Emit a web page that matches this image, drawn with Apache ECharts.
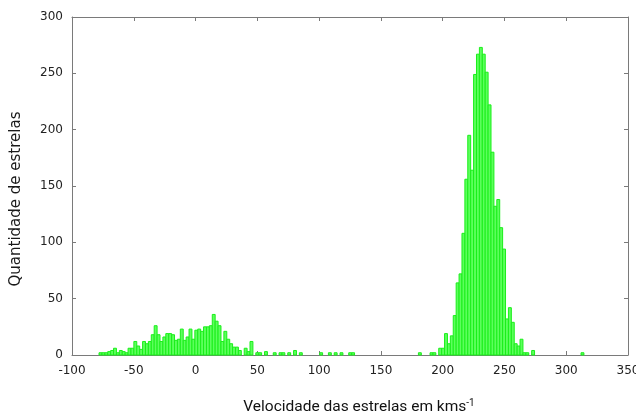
<!DOCTYPE html>
<html><head><meta charset="utf-8">
<script src="https://cdn.jsdelivr.net/npm/echarts@6/dist/echarts.min.js"></script>
<style>html,body{margin:0;padding:0;background:#fff}#c{width:636px;height:412px}</style>
</head><body><div id="c"></div>
<script>
// Histogram bins (km/s): first bin centre and bin width
const binStart = -76.95;
const binWidth = 2.35;
// Star counts per bin, consecutive from binStart
const counts = [
  2,2,2,3,4,6,2,4,3,2,
  6,6,12,8,5,12,10,12,18,26,
  18,12,16,19,19,18,13,14,23,13,
  16,23,14,22,23,21,25,25,26,36,
  30,26,12,21,14,10,7,7,4,0,
  6,3,12,0,2,2,0,3,0,0,
  2,0,2,2,0,2,0,4,0,2,
  0,0,0,0,0,0,2,0,0,2,
  0,2,0,2,0,0,2,2,0,0,
  0,0,0,0,0,0,0,0,0,0,
  0,0,0,0,0,0,0,0,0,0,
  2,0,0,0,2,2,0,6,6,19,
  10,17,35,64,72,108,156,195,164,249,
  267,273,267,251,222,180,132,138,113,94,
  32,42,29,10,8,14,2,2,0,4,
  0,0,0,0,0,0,0,0,0,0,
  0,0,0,0,0,0,2
];
const xMin = -100, xMax = 350, xStep = 50;
const yMin = 0, yMax = 300, yStep = 50;
const xTitle = 'Velocidade das estrelas em kms';
const xTitleSup = '-1';
const yTitle = 'Quantidade de estrelas';

const data = counts.map((c, i) => [binStart + i * binWidth, c]).filter(d => d[1] > 0);

const axisColor = '#7a7a7a';
const labelStyle = { color: '#222', fontFamily: 'DejaVu Sans', fontSize: 12 };

const chart = echarts.init(document.getElementById('c'), null, { renderer: 'canvas' });
chart.setOption({
  animation: false,
  backgroundColor: '#fff',
  grid: { left: 72, right: 8, top: 17, bottom: 57, show: false, containLabel: false, outerBoundsMode: 'none' },
  xAxis: [{
    type: 'value', min: xMin, max: xMax, interval: xStep, position: 'bottom',
    axisLine: { show: true, onZero: false, lineStyle: { color: axisColor, width: 1 } },
    axisTick: { show: true, inside: true, length: 4, lineStyle: { color: axisColor } },
    axisLabel: Object.assign({ margin: 10 }, labelStyle),
    splitLine: { show: false },
    name: xTitle + '{sup|' + xTitleSup + '}',
    nameLocation: 'middle', nameGap: 43,
    nameTextStyle: {
      color: '#111', fontFamily: 'Roboto', fontSize: 15.5, padding: [0, 0, 0, 18],
      rich: { sup: { fontSize: 10, fontFamily: 'Roboto', color: '#111', padding: [0, 0, 9, 0] } }
    }
  }, {
    type: 'value', min: xMin, max: xMax, interval: xStep, position: 'top',
    axisLine: { show: true, onZero: false, lineStyle: { color: axisColor, width: 1 } },
    axisTick: { show: true, inside: true, length: 4, lineStyle: { color: axisColor } },
    axisLabel: { show: false }, splitLine: { show: false }
  }],
  yAxis: [{
    type: 'value', min: yMin, max: yMax, interval: yStep, position: 'left',
    axisLine: { show: true, onZero: false, lineStyle: { color: axisColor, width: 1 } },
    axisTick: { show: true, inside: true, length: 4, lineStyle: { color: axisColor } },
    axisLabel: Object.assign({ margin: 9 }, labelStyle),
    splitLine: { show: false },
    name: yTitle, nameLocation: 'middle', nameGap: 48, nameRotate: 90,
    nameTextStyle: { color: '#1a1a1a', fontFamily: 'DejaVu Sans', fontSize: 15, padding: [0, 26, 0, 0] }
  }, {
    type: 'value', min: yMin, max: yMax, interval: yStep, position: 'right',
    axisLine: { show: true, onZero: false, lineStyle: { color: axisColor, width: 1 } },
    axisTick: { show: true, inside: true, length: 4, lineStyle: { color: axisColor } },
    axisLabel: { show: false }, splitLine: { show: false }
  }],
  series: [{
    type: 'custom',
    xAxisIndex: 0, yAxisIndex: 0,
    data: data,
    encode: { x: 0, y: 1 },
    renderItem: function (params, api) {
      const x = api.value(0), y = api.value(1);
      const p0 = api.coord([x - binWidth / 2, y]);
      const p1 = api.coord([x + binWidth / 2, 0]);
      return {
        type: 'rect',
        shape: { x: p0[0], y: p0[1], width: p1[0] - p0[0], height: p1[1] - p0[1] },
        style: { fill: '#5cff5c', stroke: '#1aef1a', lineWidth: 1 }
      };
    }
  }]
});
</script>
</body></html>
